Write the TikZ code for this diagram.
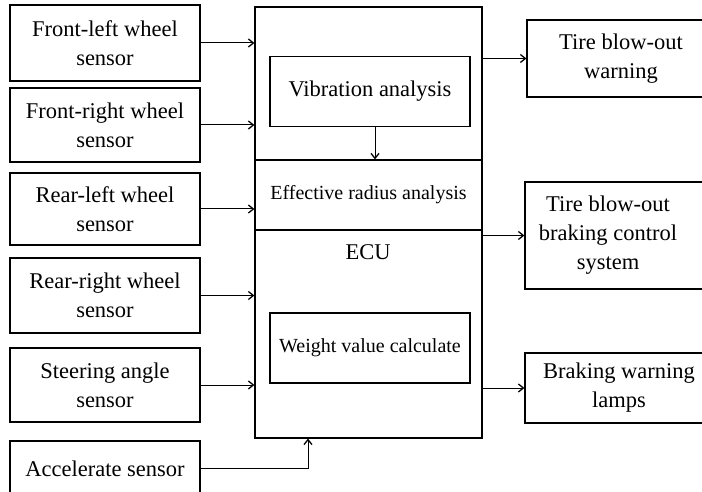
\documentclass[tikz,border=0pt]{standalone}
\usepackage{fontspec}
\setmainfont{Liberation Serif}
\usetikzlibrary{arrows.meta}

\begin{document}
\begin{tikzpicture}[x=1pt, y=-1pt,
    box/.style={draw, line width=1.2pt, align=center, inner sep=0pt,
                font={\fontsize{22.5pt}{29pt}\selectfont}},
    sensor/.style={box, minimum width=190pt},
    inner/.style={box, minimum width=200pt, minimum height=70pt},
    outbox/.style={box, minimum width=188pt},
    small/.style={font={\fontsize{20pt}{25pt}\selectfont}},
    conn/.style={line width=1pt, -{Straight Barb[length=5pt,width=8pt,line width=1.3pt]}}]
    \useasboundingbox (0,0) rectangle (702,492);
    \clip (0,0) rectangle (702,492);
    % sensors
    \node[sensor, minimum height=76pt] (s1) at (105,43)    {Front-left wheel\\sensor};
    \node[sensor, minimum height=74pt] (s2) at (105,125)   {Front-right wheel\\sensor};
    \node[sensor, minimum height=72pt] (s3) at (105,209)   {Rear-left wheel\\sensor};
    \node[sensor, minimum height=75pt] (s4) at (105,295.5) {Rear-right wheel\\sensor};
    \node[sensor, minimum height=74pt] (s5) at (105,385)   {Steering angle\\sensor};
    \node[sensor, minimum height=55pt] (s6) at (105,468.5) {Accelerate sensor};
    % ECU
    \node[box, minimum width=227pt, minimum height=431pt] (ecu) at (368.5,222.5) {};
    \node[box, small, minimum width=227pt, minimum height=70pt] (radius) at (368.5,195) {Effective radius analysis};
    \node[inner] (vib) at (370,91.5) {Vibration analysis};
    \node[inner, small] (weight) at (370,348) {Weight value calculate};
    \node[font={\fontsize{22.5pt}{29pt}\selectfont}] (ecutxt) at (368,252) {ECU};
    % outputs
    \node[outbox, minimum height=77pt] (o1) at (621,58.5) {Tire blow-out\\warning};
    \node[outbox, minimum height=107pt,
          label={[align=center, xshift=-11pt, font={\fontsize{22.5pt}{29pt}\selectfont}]center:Tire blow-out\\braking control\\system}] (o2) at (619,235.5) {};
    \node[outbox, minimum height=70pt] (o3) at (619,388) {Braking warning\\lamps};
    % connectors
    \foreach \s in {s1,s2,s3,s4,s5}
        \draw[conn] (\s.east) -- (\s.east -| ecu.west);
    \draw[conn] (s6.east) -| ([xshift=-60.5pt]ecu.south);
    \draw[conn] ([xshift=5pt]vib.south) -- ([xshift=5pt]vib.south |- radius.north);
    \foreach \o in {o1,o2,o3}
        \draw[conn] (\o.west -| ecu.east) -- (\o.west);
\end{tikzpicture}
\end{document}
